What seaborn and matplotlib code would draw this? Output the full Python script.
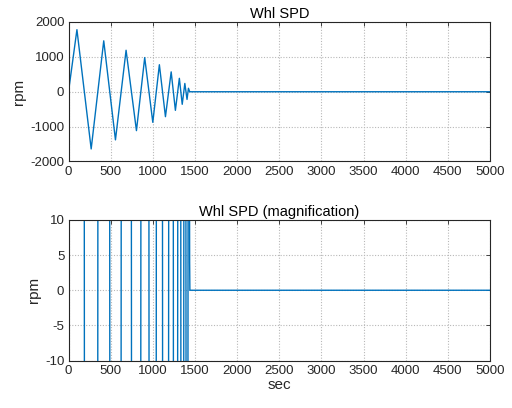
import numpy as np
import pandas as pd
import seaborn as sns
import matplotlib
matplotlib.use("Agg")
import matplotlib.pyplot as plt

# Data (turning points of the wheel speed trace)
time_sec = [0, 100, 269, 418, 557, 683, 806, 904, 1000, 1078, 1150, 1218,
            1268, 1315, 1349, 1380, 1406, 1423, 1437, 1440, 5000]
whl_spd = [0, 1780, -1640, 1460, -1380, 1190, -1115, 980, -877, 775, -715, 570,
           -533, 385, -360, 238, -220, 100, 4, 0, 0]

top_title = "Whl SPD"
bottom_title = "Whl SPD (magnification)"
x_ticks = [0, 500, 1000, 1500, 2000, 2500, 3000, 3500, 4000, 4500, 5000]
top_yticks = [-2000, -1000, 0, 1000, 2000]
bottom_yticks = [-10, -5, 0, 5, 10]

df = pd.DataFrame({"sec": time_sec, "rpm": whl_spd})

sns.set_theme(style="white")
plt.rcParams["font.family"] = ["Liberation Sans", "DejaVu Sans"]
plt.rcParams["axes.unicode_minus"] = False

fig = plt.figure(figsize=(5.12, 4.08), dpi=100)
ax1 = fig.add_axes([68.5 / 512, 1 - 161.5 / 408, 421.5 / 512, 139.5 / 408])
ax2 = fig.add_axes([68.5 / 512, 1 - 360.5 / 408, 421.5 / 512, 140.5 / 408])

line_color = "#0072BD"
for ax, yt, title in [(ax1, top_yticks, top_title), (ax2, bottom_yticks, bottom_title)]:
    sns.lineplot(data=df, x="sec", y="rpm", ax=ax, color=line_color,
                 linewidth=1.0, estimator=None, sort=False)
    ax.set_xlim(0, 5000)
    ax.set_ylim(yt[0], yt[-1])
    ax.set_xticks(x_ticks)
    ax.set_yticks(yt)
    ax.grid(True, color="#b8b8b8", linestyle=(0, (1, 1.5)), linewidth=0.8)
    ax.set_axisbelow(True)
    for s in ax.spines.values():
        s.set_visible(True)
        s.set_color("#262626")
        s.set_linewidth(0.8)
    ax.tick_params(direction="in", length=3, width=0.6, colors="#262626",
                   labelsize=9.5, top=True, right=True, pad=3)
    ax.tick_params(axis="both", labelcolor="#262626")
    ax.set_title(title, fontsize=10.5, color="black", pad=3)
    ax.set_ylabel("rpm", fontsize=11, color="#262626", labelpad=3)
    ax.set_xlabel("")

ax2.set_xlabel("sec", fontsize=11, color="#262626", labelpad=1)

fig.savefig("out.png", dpi=100, facecolor="white")
